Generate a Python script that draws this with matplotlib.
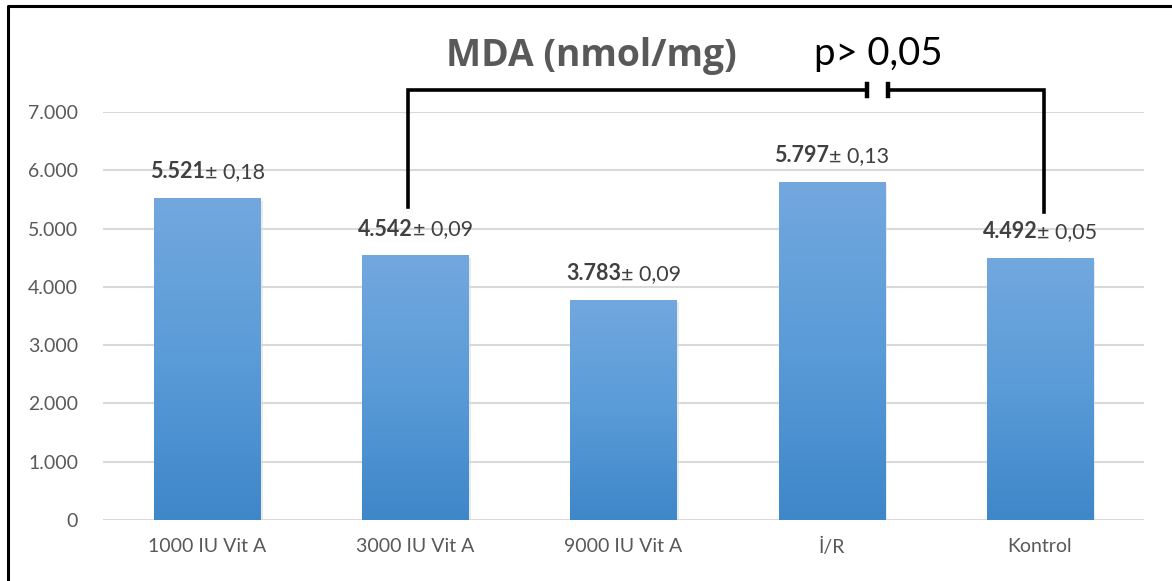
import matplotlib.pyplot as plt
import numpy as np
from matplotlib.colors import LinearSegmentedColormap
from matplotlib.lines import Line2D

categories = ["1000 IU Vit A", "3000 IU Vit A", "9000 IU Vit A", "İ/R", "Kontrol"]
means = [5521, 4542, 3783, 5797, 4492]
mean_labels = ["5.521", "4.542", "3.783", "5.797", "4.492"]
sd_labels = ["± 0,18", "± 0,09", "± 0,09", "± 0,13", "± 0,05"]
yticks = [0, 1000, 2000, 3000, 4000, 5000, 6000, 7000]
ytick_labels = ["0", "1.000", "2.000", "3.000", "4.000", "5.000", "6.000", "7.000"]

plt.rcParams['font.family'] = ['Lato', 'DejaVu Sans']

fig = plt.figure(figsize=(11.72, 5.81), dpi=100)
ax = fig.add_axes([103 / 1172, 1 - 520 / 581, 1041 / 1172, 408 / 581])

x = np.arange(len(categories))
bars = ax.bar(x, means, width=0.51, color='#5b9bd5', zorder=2)

# vertical gradient inside each bar
cmap = LinearSegmentedColormap.from_list("bar", ["#3e87c9", "#5a9bd8", "#72a8de"])
grad = np.linspace(0, 1, 256).reshape(-1, 1)
for b in bars:
    x0, w, h = b.get_x(), b.get_width(), b.get_height()
    im = ax.imshow(grad, cmap=cmap, extent=[x0, x0 + w, 0, h], origin='lower',
                   aspect='auto', zorder=3)
    im.set_clip_path(b)
    # faint shadow
    ax.bar(x0 + w / 2 + 0.012, h, width=w, bottom=-40, color='#000000', alpha=0.08, zorder=1)

ax.set_xlim(-0.5, len(categories) - 0.5)
ax.set_ylim(0, 7000)
ax.set_yticks(yticks)
ax.set_yticklabels(ytick_labels)
ax.set_xticks(x)
ax.set_xticklabels(categories)
ax.tick_params(axis='both', length=0, labelsize=14, colors='#595959')
ax.tick_params(axis='y', pad=18)
ax.tick_params(axis='x', pad=13)
ax.grid(axis='y', color='#d9d9d9', linewidth=1.5, zorder=0)
for s in ax.spines.values():
    s.set_visible(False)

# value labels: bold mean + normal sd, centred together over the bar
fig.canvas.draw()
r = fig.canvas.get_renderer()
for i in range(len(categories)):
    ypos = means[i] + 270
    t1 = ax.text(x[i], ypos, mean_labels[i], fontsize=15.5, fontweight='bold',
                 color='#404040', ha='left', va='bottom', zorder=5)
    t2 = ax.annotate(sd_labels[i], xy=(1, 0), xycoords=t1, fontsize=15.5,
                     color='#404040', ha='left', va='bottom', zorder=5)
    w1 = t1.get_window_extent(r).width
    w2 = t2.get_window_extent(r).width
    px = ax.transData.transform((x[i], ypos))
    newx = ax.transData.inverted().transform((px[0] - (w1 + w2) / 2, px[1]))[0]
    t1.set_x(newx)

# title and significance bracket
fig.text(591 / 1172, 1 - 56 / 581, "MDA (nmol/mg)", fontsize=26.8, fontweight='bold',
         color='#595959', ha='center', va='center', family=['Open Sans', 'DejaVu Sans'])
fig.text(878 / 1172, 1 - 54 / 581, "p> 0,05", fontsize=27.5, color='black',
         ha='center', va='center')

top_y = 7376
lw = 2.6
ax.add_line(Line2D([0.965, 0.965, 3.17], [5370, top_y, top_y], color='black', lw=lw,
                   clip_on=False, solid_joinstyle='miter', zorder=6))
ax.add_line(Line2D([3.27, 4.02, 4.02], [top_y, top_y, 5285], color='black', lw=lw,
                   clip_on=False, solid_joinstyle='miter', zorder=6))
for gx in (3.17, 3.27):
    ax.add_line(Line2D([gx, gx], [top_y - 110, top_y + 110], color='black', lw=lw + 0.6,
                       clip_on=False, zorder=6))

# figure frame (top and left edges)
fig.add_artist(Line2D([8 / 1172, 8 / 1172, 1.0], [0, 1 - 6 / 581, 1 - 6 / 581],
                      transform=fig.transFigure, color='black', lw=2.2))

fig.savefig("out.png", dpi=100)
